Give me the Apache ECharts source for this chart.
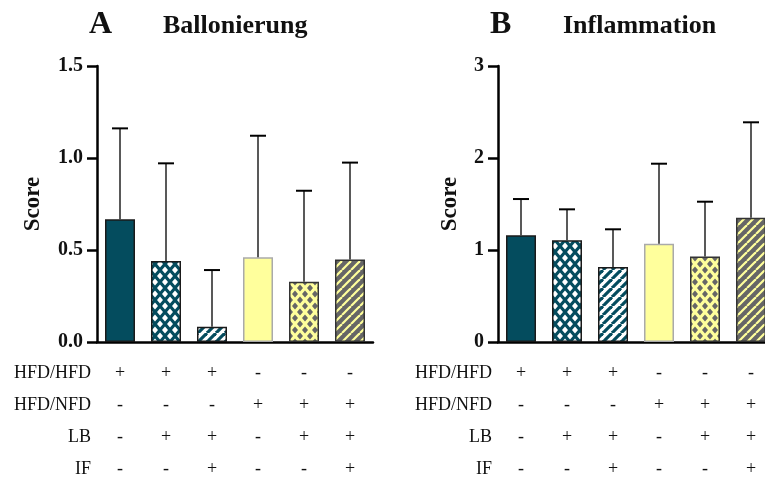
<!DOCTYPE html>
<html>
<head>
<meta charset="utf-8">
<script src="https://cdn.jsdelivr.net/npm/echarts@6/dist/echarts.min.js"></script>
<style>
html,body{margin:0;padding:0;background:#fff;overflow:hidden;}
#main{width:780px;height:483px;}
</style>
</head>
<body>
<div id="main"></div>
<script>
// data
var groups = ['G1', 'G2', 'G3', 'G4', 'G5', 'G6'];
var ballMean = [0.667, 0.44, 0.083, 0.46, 0.328, 0.449];
var ballSd = [0.494, 0.531, 0.308, 0.661, 0.494, 0.526];
var inflMean = [1.16, 1.105, 0.815, 1.069, 0.928, 1.351];
var inflSd = [0.394, 0.337, 0.41, 0.869, 0.597, 1.037];
var rowNames = ['HFD/HFD', 'HFD/NFD', 'LB', 'IF'];
var rowSigns = [
	['+', '+', '+', '-', '-', '-'],
	['-', '-', '-', '+', '+', '+'],
	['-', '+', '+', '-', '+', '+'],
	['-', '-', '+', '-', '-', '+']
];
var ballTicks = [0, 1.5, 0.5];
var inflTicks = [0, 3, 1];

var TEAL = '#044c5e', YEL = '#ffff9c', GRAY = '#666666';
var FONT = 'Liberation Serif';

// 图案
function stripes(bg, fg, w, s){
	var c = document.createElement('canvas');
	c.width = s; c.height = s;
	var ctx = c.getContext('2d');
	ctx.fillStyle = bg; ctx.fillRect(0, 0, s, s);
	ctx.strokeStyle = fg; ctx.lineWidth = w;
	for(var k = -1; k <= 1; k++){
		ctx.beginPath();
		ctx.moveTo(k * s, s);
		ctx.lineTo(k * s + s, 0);
		ctx.stroke();
	}
	return {image: c, repeat: 'repeat'};
}
function diamonds(bg, fg, rx, ry, w, h){
	var c = document.createElement('canvas');
	c.width = w; c.height = h;
	var ctx = c.getContext('2d');
	ctx.fillStyle = bg; ctx.fillRect(0, 0, w, h);
	ctx.fillStyle = fg;
	[[w / 2, h / 2], [0, 0], [w, 0], [0, h], [w, h]].forEach(function(p){
		ctx.beginPath();
		ctx.moveTo(p[0], p[1] - ry);
		ctx.lineTo(p[0] + rx, p[1]);
		ctx.lineTo(p[0], p[1] + ry);
		ctx.lineTo(p[0] - rx, p[1]);
		ctx.closePath();
		ctx.fill();
	});
	return {image: c, repeat: 'repeat'};
}

var styles = [
	{color: TEAL, borderColor: '#1a1a1a', borderWidth: 1.5},
	{color: diamonds(TEAL, '#ffffff', 3, 3.6, 10, 12), borderColor: '#1a1a1a', borderWidth: 1.5},
	{color: stripes('#ffffff', TEAL, 3.2, 9), borderColor: '#1a1a1a', borderWidth: 1.5},
	{color: YEL, borderColor: '#aaaaaa', borderWidth: 1.5},
	{color: diamonds(YEL, GRAY, 3, 3.6, 10, 12), borderColor: '#333333', borderWidth: 1.5},
	{color: stripes(GRAY, YEL, 2.2, 9), borderColor: '#333333', borderWidth: 1.5}
];

var chart = echarts.init(document.getElementById('main'));

var grids = [
	{left: 97, top: 66, width: 276, height: 276, outerBoundsMode: 'none'},
	{left: 498, top: 66, width: 276, height: 276, outerBoundsMode: 'none'}
];

var xAxes = [], yAxes = [], series = [];

function panel(gi, mean, sd, ticks, fmt, nameGap){
	xAxes.push({
		gridIndex: gi, type: 'category', data: groups,
		axisLine: {lineStyle: {color: '#000', width: 2.5}},
		axisTick: {alignWithLabel: true, length: 10, lineStyle: {width: 2.5, color: '#000'}},
		axisLabel: {show: false}
	});
	var mainX = xAxes.length - 1;
	rowNames.forEach(function(nm, i){
		xAxes.push({
			gridIndex: gi, type: 'category', data: rowSigns[i],
			position: 'bottom', offset: 31 + i * 32,
			axisLine: {show: false}, axisTick: {show: false},
			axisLabel: {interval: 0, margin: 0, verticalAlign: 'middle', fontFamily: FONT, fontSize: 18, color: '#111'},
			name: nm, nameLocation: 'start', nameGap: 6,
			nameTextStyle: {fontFamily: FONT, fontSize: 18, color: '#111', verticalAlign: 'middle'}
		});
	});
	yAxes.push({
		gridIndex: gi, type: 'value', min: ticks[0], max: ticks[1], interval: ticks[2],
		name: 'Score', nameLocation: 'middle', nameGap: nameGap,
		nameTextStyle: {fontFamily: FONT, fontSize: 23, fontWeight: 'bold', color: '#111'},
		axisLine: {show: true, lineStyle: {color: '#000', width: 2.5}},
		axisTick: {show: true, length: 10, lineStyle: {width: 2.5, color: '#000'}},
		axisLabel: {margin: 14, fontFamily: FONT, fontSize: 20, fontWeight: 'bold', color: '#111', formatter: fmt},
		splitLine: {show: false}
	});
	var yi = yAxes.length - 1;
	series.push({
		type: 'bar', xAxisIndex: mainX, yAxisIndex: yi, barWidth: 30,
		data: mean.map(function(v, i){ return {value: v, itemStyle: styles[i]}; }),
		silent: true
	});
	series.push({
		type: 'custom', xAxisIndex: mainX, yAxisIndex: yi, z: 5, silent: true,
		data: mean.map(function(v, i){ return [i, v, sd[i]]; }),
		renderItem: function(params, api){
			var p0 = api.coord([api.value(0), api.value(1)]);
			var p1 = api.coord([api.value(0), api.value(1) + api.value(2)]);
			return {type: 'group', children: [
				{type: 'line', shape: {x1: p0[0], y1: p0[1], x2: p1[0], y2: p1[1]}, style: {stroke: '#222', lineWidth: 1.5}},
				{type: 'line', shape: {x1: p1[0] - 8, y1: p1[1], x2: p1[0] + 8, y2: p1[1]}, style: {stroke: '#000', lineWidth: 2}}
			]};
		}
	});
}

panel(0, ballMean, ballSd, ballTicks, function(v){ return v.toFixed(1); }, 52);
panel(1, inflMean, inflSd, inflTicks, function(v){ return String(v); }, 36);

var tStyle = {fontFamily: FONT, fontWeight: 'bold', color: '#111'};
var option = {
	animation: false,
	title: [
		{text: 'A', left: 89, top: 9, padding: 0, textStyle: Object.assign({fontSize: 32}, tStyle)},
		{text: 'Ballonierung', left: 163, top: 13, padding: 0, textStyle: Object.assign({fontSize: 26}, tStyle)},
		{text: 'B', left: 490, top: 9, padding: 0, textStyle: Object.assign({fontSize: 32}, tStyle)},
		{text: 'Inflammation', left: 563, top: 13, padding: 0, textStyle: Object.assign({fontSize: 26}, tStyle)}
	],
	grid: grids,
	xAxis: xAxes,
	yAxis: yAxes,
	series: series
};
chart.setOption(option);
</script>
</body>
</html>
